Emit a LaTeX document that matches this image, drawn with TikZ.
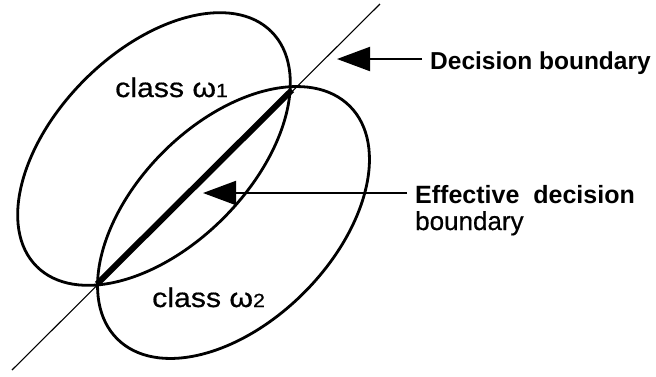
\documentclass[tikz,border=0pt]{standalone}
\usepackage{fontspec}
\setmainfont{Liberation Sans}
\newfontfamily\classfont[FakeStretch=1.12, FakeBold=0.6]{Liberation Sans}
\newfontfamily\plainfont[FakeBold=0.6]{Liberation Sans}
\usetikzlibrary{arrows.meta, positioning}

\begin{document}
\begin{tikzpicture}[
    x=1pt, y=-1pt,
    every node/.style={inner sep=0pt},
    region/.style={line width=2.8pt},
    lbl/.style={anchor=base west, inner xsep=8pt, font=\fontsize{25}{29}\selectfont},
    cls/.style={anchor=base west, font=\fontsize{27}{31}\classfont},
    arr/.style={-{Triangle[length=33pt, width=24pt]}, line width=2pt}
]
\useasboundingbox (0,0) rectangle (656,376);

% class regions
\draw[region] (154,149) ellipse [x radius=166, y radius=98, rotate=45];
\draw[region] (233.5,222.5) ellipse [x radius=164.5, y radius=99.5, rotate=45];

% boundaries
\coordinate (lo) at (12,370);
\coordinate (hi) at (380,4);
\coordinate (p1) at (97,284);
\coordinate (p2) at (292,90);
\draw[line width=1.1pt] (lo) -- (hi);
\draw[line width=6pt] (p1) -- (p2);

\node[cls] (c1) at (115,97) {class ω{\fontsize{19}{21}\selectfont 1}};
\node[cls] (c2) at (152,307) {class ω{\fontsize{19}{21}\selectfont 2}};

% labels
\node[lbl, font=\fontsize{24.5}{28}\selectfont\bfseries] (db) at (422,69) {Decision boundary};
\node[lbl, font=\fontsize{25}{29}\selectfont\bfseries] (eff) at (407,203) {Effective\hspace{14pt}decision};
\node[lbl, font=\fontsize{26}{30}\plainfont] (bnd) at (407,230) {boundary};

\coordinate (h1) at (337,59);
\coordinate (h2) at (203,193);
\draw[arr] (h1 -| db.west) -- (h1);
\draw[arr] (h2 -| eff.west) -- (h2);
\end{tikzpicture}
\end{document}
